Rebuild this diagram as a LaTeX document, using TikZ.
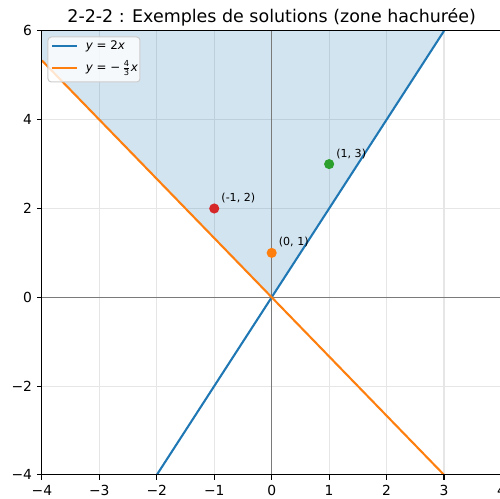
\documentclass[tikz,border=0pt]{standalone}
\usepackage{fontspec}
\usepackage{amsmath}
\setmainfont{DejaVu Sans}
\definecolor{tabblue}{HTML}{1F77B4}
\definecolor{taborange}{HTML}{FF7F0E}
\definecolor{tabgreen}{HTML}{2CA02C}
\definecolor{tabred}{HTML}{D62728}
\definecolor{gridgray}{HTML}{E6E6E6}
\definecolor{zerogray}{HTML}{7A7A7A}
\definecolor{legframe}{HTML}{CCCCCC}
\tikzset{
  gridline/.style={gridgray, line width=0.83pt},
  zeroline/.style={zerogray, line width=1.1pt},
  dataline/.style={line width=1.56pt},
  spine/.style={black, line width=0.83pt, line cap=rect},
  tickmark/.style={black, line width=0.83pt},
  ticklabel/.style={font=\fontsize{10.4pt}{12pt}\selectfont, inner sep=0pt},
  dot/.style={circle, inner sep=0pt, minimum size=7.6pt},
  ptlabel/.style={font=\fontsize{8.3pt}{10pt}\selectfont, inner sep=0pt, anchor=base west, xshift=5.2pt, yshift=5.2pt},
  legtext/.style={font=\fontsize{8.9pt}{10pt}\selectfont, inner sep=0pt, anchor=west}
}
\begin{document}
\begin{tikzpicture}[x=43.09pt, y=33.3pt]
\useasboundingbox (-4.729,-4.543) rectangle (3.974,6.696);
% grid
\foreach \i in {-3,...,3} \draw[gridline] (\i,-4) -- (\i,6);
\foreach \j in {-2,0,2,4} \draw[gridline] (-4,\j) -- (4,\j);
% shaded region
\fill[tabblue, fill opacity=0.2] (-4,5.3333) -- (0,0) -- (3,6) -- (-4,6) -- cycle;
% zero lines
\draw[zeroline] (-4,0) -- (4,0);
\draw[zeroline] (0,-4) -- (0,6);
% data lines
\begin{scope}
\clip (-4,-4) rectangle (4,6);
\draw[dataline, tabblue] (-2,-4) -- (3,6);
\draw[dataline, taborange] (-4,5.3333) -- (3,-4);
\end{scope}
% points
\node[dot, fill=tabred] (pA) at (-1,2) {};
\node[dot, fill=taborange] (pB) at (0,1) {};
\node[dot, fill=tabgreen] (pC) at (1,3) {};
\node[ptlabel] (lA) at (-1,2) {(-1, 2)};
\node[ptlabel] (lB) at (0,1) {(0, 1)};
\node[ptlabel] (lC) at (1,3) {(1, 3)};
% spines
\draw[spine] (-4,-4) -- (-4,6) -- (4,6) -- (4,-4) -- cycle;
% x ticks
\foreach \i/\t in {-4/−4,-3/−3,-2/−2,-1/−1,0/0,1/1,2/2,3/3,4/4} {
  \draw[tickmark] (\i,-4) -- ++(0,-3.65pt);
  \node[ticklabel, anchor=north] at ([yshift=-7.9pt]\i,-4) {\t};
}
% y ticks
\foreach \j/\t in {-4/−4,-2/−2,0/0,2/2,4/4,6/6} {
  \draw[tickmark] (-4,\j) -- ++(-3.65pt,0);
  \node[ticklabel, anchor=east] at ([xshift=-7.2pt]-4,\j) {\t};
}
% title
\node[font=\fontsize{13.1pt}{15pt}\selectfont, inner sep=0pt, anchor=base] (title) at ([yshift=6.5pt]0,6) {2-2-2 : Exemples de solutions (zone hachurée)};
% legend (pixel coordinates from top-left)
\begin{scope}[shift={(-4.729,6.696)}, x=0.75pt, y=-0.75pt]
\draw[legframe, fill=white, fill opacity=0.8, line width=0.75pt, rounded corners=2.5pt] (48,37) rectangle (140,82);
\draw[dataline, tabblue] (52,46) -- (77,46);
\draw[dataline, taborange] (52,68) -- (77,68);
\node[legtext] (leg1) at (85.5,46) {\textit{y} = 2\textit{x}};
\node[legtext] (leg2) at (85.5,68) {\textit{y} = −\,$\frac{\textrm{4}}{\textrm{3}}$\textit{x}};
\end{scope}
\end{tikzpicture}
\end{document}
